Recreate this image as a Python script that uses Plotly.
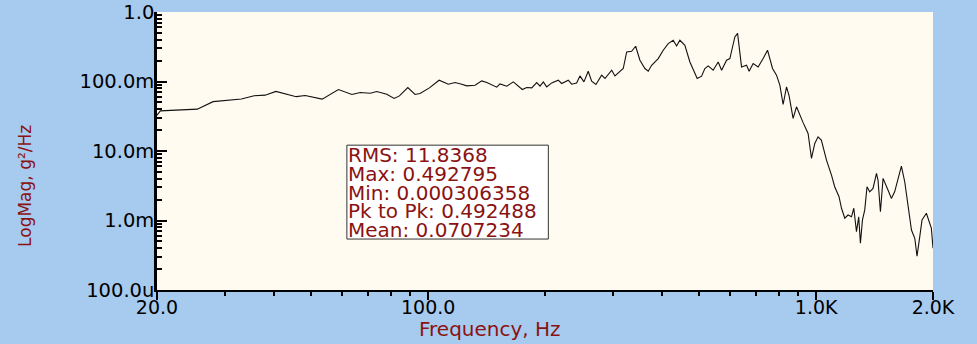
import plotly.graph_objects as go

# ---- data ----
freq_hz = [
    20.0, 20.4, 25.4, 27.9, 33.0, 35.6, 38.0, 40.5, 45.7, 48.2, 53.3, 58.7, 63.6, 66.8,
    70.9, 73.7, 78.2, 81.7, 84.3, 88.6, 92.5, 95.3, 100.7, 106.7, 112.7, 117.3, 122.0,
    125.7, 132.1, 137.4, 141.6, 145.8, 150.2, 153.1, 159.4, 165.7, 170.7, 174.8, 179.4,
    184.9, 190.4, 194.2, 198.0, 202.0, 208.1, 216.4, 220.8, 229.6, 234.3, 241.3, 246.1,
    252.0, 258.5, 263.8, 270.6, 279.9, 285.5, 297.1, 302.9, 318.2, 324.7, 334.4, 342.5,
    351.3, 361.9, 369.1, 376.6, 391.6, 403.4, 415.5, 428.0, 436.7, 445.3, 458.7, 472.6,
    481.9, 493.5, 506.5, 516.5, 526.7, 542.6, 559.0, 570.4, 587.5, 599.1, 605.1, 617.1,
    627.1, 635.7, 642.1, 661.4, 671.7, 687.8, 708.5, 729.9, 749.2, 759.5, 771.7, 790.2,
    805.9, 821.8, 838.5, 851.5, 871.9, 889.7, 907.2, 925.2, 953.0, 972.4, 991.6, 1011,
    1031, 1063, 1095, 1116, 1145, 1162, 1185, 1208, 1233, 1250, 1270, 1287, 1300, 1316,
    1334, 1352, 1374, 1401, 1430, 1443, 1464, 1487, 1531, 1562, 1593, 1625, 1658, 1691,
    1725, 1760, 1795, 1819, 1849, 1874, 1923, 1953, 1981, 2000,
]
psd_g2_per_hz = [
    0.0328, 0.0378, 0.0400, 0.0513, 0.0560, 0.0625, 0.0636, 0.0721, 0.0605, 0.0629,
    0.0557, 0.0767, 0.0650, 0.0695, 0.0679, 0.0718, 0.0657, 0.0570, 0.0621, 0.0820,
    0.0650, 0.0672, 0.0809, 0.1044, 0.0915, 0.0967, 0.0915, 0.0865, 0.0885, 0.1020,
    0.0967, 0.0885, 0.0828, 0.0923, 0.0856, 0.0987, 0.0856, 0.0767, 0.0820, 0.0809,
    0.0967, 0.0856, 0.0987, 0.0836, 0.0954, 0.1044, 0.0936, 0.1044, 0.0915, 0.0954,
    0.1204, 0.0987, 0.1406, 0.1010, 0.0905, 0.1232, 0.1104, 0.1454, 0.1204, 0.1538,
    0.2662, 0.2724, 0.3215, 0.2022, 0.1538, 0.1406, 0.1714, 0.2140, 0.2816, 0.3515,
    0.3922, 0.3247, 0.3922, 0.3323, 0.1912, 0.1454, 0.1104, 0.1192, 0.1538, 0.1675,
    0.1454, 0.1912, 0.1454, 0.2022, 0.2140, 0.2724, 0.4374, 0.4928, 0.2724, 0.1621,
    0.1714, 0.1406, 0.1814, 0.1621, 0.2140, 0.2816, 0.2140, 0.1538, 0.1232, 0.0885,
    0.0467, 0.0836, 0.0621, 0.0294, 0.0432, 0.0328, 0.0256, 0.0179, 0.00783, 0.01286,
    0.0160, 0.01434, 0.0074, 0.00450, 0.00306, 0.00220, 0.00150, 0.00108, 0.00120,
    0.00113, 0.00150, 0.00069, 0.00113, 0.00047, 0.00102, 0.00142, 0.00306, 0.00259,
    0.00290, 0.00477, 0.00382, 0.00134, 0.00404, 0.00274, 0.00208, 0.00259, 0.00382,
    0.00607, 0.00361, 0.00167, 0.00073, 0.000555, 0.000306, 0.000585, 0.00102, 0.00127,
    0.00096, 0.00077, 0.000399,
]

x_tick_vals = [20, 100, 1000, 2000]
x_tick_text = ["20.0", "100.0", "1.0K", "2.0K"]
x_minor_vals = [30, 40, 50, 60, 70, 80, 90, 200, 300, 400, 500, 600, 700, 800, 900]
y_tick_vals = [1e-4, 1e-3, 1e-2, 1e-1, 1.0]
y_tick_text = ["100.0u", "1.0m", "10.0m", "100.0m", "1.0"]
y_minor_vals = [k * 10.0 ** e for e in (-4, -3, -2, -1) for k in range(2, 10)]

stats_lines = [
    "RMS: 11.8368",
    "Max: 0.492795",
    "Min: 0.000306358",
    "Pk to Pk: 0.492488",
    "Mean: 0.0707234",
]

x_title = "Frequency, Hz"
y_title = "LogMag, g²/Hz"

# ---- styling ----
DARK_RED = "#8A1212"
FONT = "DejaVu Sans"

fig = go.Figure()
fig.add_trace(go.Scatter(
    x=freq_hz, y=psd_g2_per_hz, mode="lines",
    line=dict(color="#111111", width=1.1), showlegend=False, hoverinfo="skip",
))

fig.update_layout(
    width=977, height=344,
    margin=dict(l=157, r=44, t=12, b=54, pad=0, autoexpand=False),
    paper_bgcolor="#A7CAEF",
    plot_bgcolor="#FFFBF0",
    showlegend=False,
)

fig.update_xaxes(
    type="log", range=[1.30103, 3.30103], automargin=False,
    tickmode="array", tickvals=x_tick_vals, ticktext=x_tick_text,
    ticks="outside", ticklen=8, tickwidth=2, tickcolor="black",
    ticklabelstandoff=-9,
    showline=True, linewidth=2, linecolor="black",
    showgrid=False, zeroline=False,
    tickfont=dict(family=FONT, size=19, color="black"),
    minor=dict(tickmode="array", tickvals=x_minor_vals, ticks="outside",
               ticklen=4, tickwidth=1.5, tickcolor="black", showgrid=False),
)
fig.update_yaxes(
    type="log", range=[-4, 0], automargin=False,
    tickmode="array", tickvals=y_tick_vals, ticktext=y_tick_text,
    ticks="inside", ticklen=10, tickwidth=2, tickcolor="black",
    ticklabelstandoff=-4,
    showline=True, linewidth=2.5, linecolor="black",
    showgrid=False, zeroline=False,
    tickfont=dict(family=FONT, size=19.5, color="black"),
    minor=dict(tickmode="array", tickvals=y_minor_vals, ticks="inside",
               ticklen=5, tickwidth=1.5, tickcolor="black", showgrid=False),
)

annotations = [
    dict(text=x_title, xref="paper", yref="paper", x=0.429, y=-0.140,
         xanchor="center", yanchor="middle", showarrow=False,
         font=dict(family=FONT, size=20, color=DARK_RED)),
    dict(text=y_title, xref="paper", yref="paper", x=-0.171, y=0.3755,
         xanchor="center", yanchor="middle", showarrow=False, textangle=-90,
         font=dict(family=FONT, size=17, color=DARK_RED)),
]
line_y = [0.4851, 0.4177, 0.3504, 0.2830, 0.2156]
for txt, yy in zip(stats_lines, line_y):
    annotations.append(dict(
        text=txt, xref="paper", yref="paper", x=0.2440, y=yy,
        xanchor="left", yanchor="middle", showarrow=False,
        font=dict(family=FONT, size=20, color=DARK_RED),
    ))
fig.update_layout(annotations=annotations)

fig.add_shape(type="rect", xref="paper", yref="paper",
              x0=0.2447, x1=0.5043, y0=0.1833, y1=0.521,
              fillcolor="white", line=dict(color="#333333", width=1), layer="above")

fig.write_html(
    "out.html",
    config={"displayModeBar": False},
    post_script="document.body.style.margin='0';document.body.style.overflow='hidden';",
)
